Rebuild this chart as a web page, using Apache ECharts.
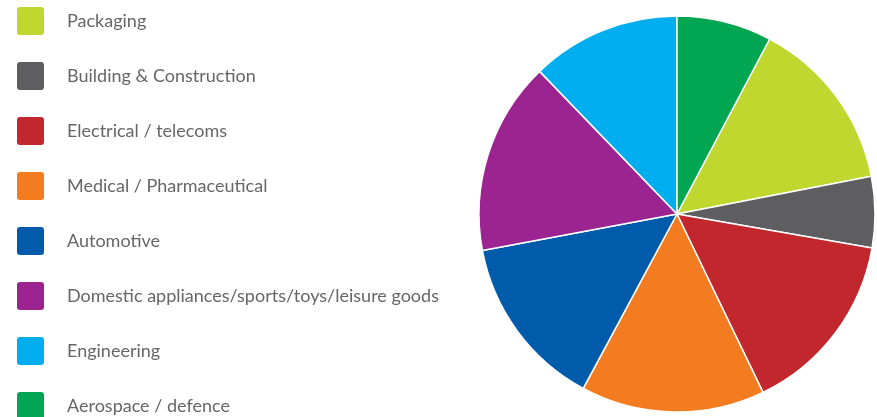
<!DOCTYPE html>
<html>
<head>
<meta charset="utf-8">
<script src="https://cdn.jsdelivr.net/npm/echarts@6/dist/echarts.min.js"></script>
<style>
html,body{margin:0;padding:0;background:#fff;}
#chart{width:877px;height:417px;}
</style>
</head>
<body>
<div id="chart"></div>
<script>
const categories = [
  'Packaging',
  'Building & Construction',
  'Electrical / telecoms',
  'Medical / Pharmaceutical',
  'Automotive',
  'Domestic appliances/sports/toys/leisure goods',
  'Engineering',
  'Aerospace / defence'
];
const values = [14.2, 5.8, 15.1, 15.0, 14.2, 15.75, 12.2, 7.75];
const colors = ['#C0D72F', '#5E5E60', '#C1272D', '#F37B20', '#005BAA', '#9C2490', '#00AEEF', '#00A651'];

const chart = echarts.init(document.getElementById('chart'), null, {renderer: 'canvas'});
chart.setOption({
  animation: false,
  color: colors,
  legend: {
    orient: 'vertical',
    left: 17,
    top: 7,
    height: 600,
    padding: 0,
    itemWidth: 27,
    itemHeight: 28,
    itemGap: 27,
    icon: 'path://M3,0H24A3,3 0 0 1 27,3V25A3,3 0 0 1 24,28H3A3,3 0 0 1 0,25V3A3,3 0 0 1 3,0Z',
    selectedMode: false,
    data: categories,
    itemStyle: {borderWidth: 0},
    textStyle: {
      color: '#666666',
      fontFamily: 'Lato',
      fontSize: 18,
      lineHeight: 20,
      padding: [4, 0, 0, 18]
    }
  },
  series: [{
    type: 'pie',
    center: [677, 214],
    radius: [0, 198],
    startAngle: 62.1,
    clockwise: true,
    label: {show: false},
    labelLine: {show: false},
    emphasis: {disabled: true},
    itemStyle: {borderColor: '#ffffff', borderWidth: 1.5},
    data: categories.map((c, i) => ({name: c, value: values[i]}))
  }]
});
</script>
</body>
</html>
